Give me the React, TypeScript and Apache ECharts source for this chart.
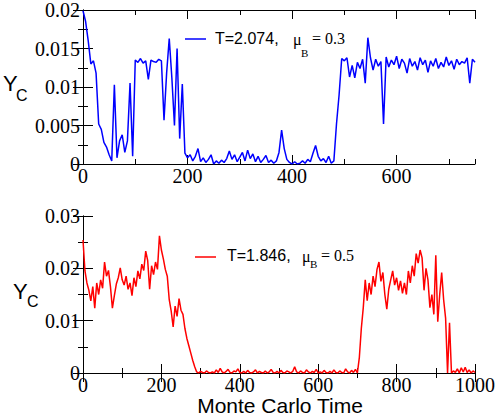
import React, { useEffect, useRef } from "react";
import * as echarts from "echarts";

// Sampling step (Monte Carlo time units) of both series
const TOP_STEP = 5;
const BOTTOM_STEP = 5;

// Top panel: T=2.074, mu_B=0.3, t = 0..750
const topValues: number[] = [
  0.0199, 0.0185, 0.016, 0.013, 0.0134, 0.0118, 0.0052, 0.0045, 0.0028, 0.0022,
  0.0012, 0.0004, 0.0103, 0.0008, 0.003, 0.0038, 0.0015, 0.003, 0.0105, 0.001,
  0.0135, 0.0132, 0.0137, 0.0131, 0.0134, 0.011, 0.0135, 0.0133, 0.0132, 0.0136,
  0.0134, 0.0057, 0.0118, 0.0163, 0.0112, 0.005, 0.015, 0.0033, 0.0104, 0.0014,
  0.0008, 0.0012, 0.0004, 0.001, 0.002, 0.0003, 0.0008, 0.0002, 0.0006, 0.0012,
  0.0, 0.0004, 0.0001, 0.0005, 0.0002, 0.0007, 0.0017, 0.0006, 0.0012, 0.0003,
  0.0009, 0.0015, 0.0004, 0.0018, 0.0007, 0.0013, 0.0003, 0.001, 0.0002, 0.0006,
  0.0011, 0.0002, 0.0005, 0.0001, 0.0004, 0.0015, 0.0044, 0.002, 0.0006, 0.0002,
  0.0, 0.0003, 0.0, 0.0001, 0.0004, 0.0001, 0.0006, 0.0003, 0.0014, 0.0024,
  0.001, 0.0004, 0.0007, 0.0002, 0.001, 0.0001, 0.0004, 0.0052, 0.009, 0.0137,
  0.0134, 0.0138, 0.0113, 0.0128, 0.0112, 0.0132, 0.0124, 0.0136, 0.0105, 0.0164,
  0.0138, 0.0122, 0.0136, 0.0127, 0.0133, 0.0052, 0.0139, 0.0126, 0.0135, 0.0129,
  0.014, 0.0124, 0.0136, 0.0131, 0.0118, 0.0137, 0.0127, 0.0133, 0.0122, 0.0138,
  0.0129, 0.0135, 0.0119, 0.0134, 0.0127, 0.0137, 0.0124, 0.0132, 0.0126, 0.0139,
  0.0128, 0.0134, 0.0123, 0.0136, 0.0129, 0.0133, 0.0131, 0.0138, 0.0105, 0.0136,
  0.0132,
];

// Bottom panel: T=1.846, mu_B=0.5, t = 0..1000
const bottomValues: number[] = [
  0.0254, 0.0195, 0.0172, 0.0158, 0.0138, 0.0165, 0.0124, 0.0172, 0.015, 0.0178,
  0.0162, 0.0212, 0.0185, 0.0196, 0.0165, 0.0124, 0.0148, 0.017, 0.0182, 0.0201,
  0.0178, 0.0168, 0.0185, 0.016, 0.0172, 0.0148, 0.0182, 0.0165, 0.0195, 0.018,
  0.0208, 0.0196, 0.0233, 0.0215, 0.016, 0.0205, 0.0188, 0.0212, 0.0198, 0.0262,
  0.0235, 0.0218, 0.0198, 0.0185, 0.014, 0.0118, 0.0088, 0.0128, 0.0108, 0.0142,
  0.012, 0.0112, 0.0085, 0.0066, 0.0052, 0.0038, 0.0024, 0.0012, 0.0002, 0.0,
  0.0003, 0.0001, 0.0, 0.0004, 0.0001, 0.0, 0.0002, 0.0, 0.0006, 0.0001,
  0.0009, 0.0002, 0.0, 0.0003, 0.0007, 0.0001, 0.0, 0.0004, 0.0002, 0.0008,
  0.0001, 0.0, 0.0003, 0.0, 0.0005, 0.0001, 0.0, 0.0002, 0.0006, 0.0,
  0.0003, 0.0001, 0.0, 0.0004, 0.0, 0.0002, 0.0007, 0.0001, 0.0, 0.0003,
  0.0, 0.0005, 0.0001, 0.0, 0.0004, 0.0002, 0.0, 0.0003, 0.0012, 0.0002,
  0.0, 0.0004, 0.0001, 0.0, 0.0006, 0.0002, 0.0, 0.0003, 0.0001, 0.0007,
  0.0, 0.0002, 0.0, 0.0005, 0.0001, 0.0, 0.0003, 0.0, 0.0006, 0.0001,
  0.0, 0.0004, 0.0001, 0.0, 0.0008, 0.0002, 0.0, 0.0005, 0.0001, 0.0007,
  0.0, 0.003, 0.0085, 0.0125, 0.0178, 0.0138, 0.0172, 0.015, 0.0185, 0.0165,
  0.0198, 0.0212, 0.0175, 0.0192, 0.015, 0.0122, 0.016, 0.0178, 0.0195, 0.0168,
  0.0182, 0.0158, 0.0176, 0.0152, 0.0172, 0.015, 0.0195, 0.0172, 0.0205, 0.0185,
  0.0228, 0.021, 0.0235, 0.022, 0.0158, 0.02, 0.0178, 0.0125, 0.015, 0.0112,
  0.0225, 0.0098, 0.015, 0.0192, 0.014, 0.0105, 0.0, 0.0096, 0.0, 0.0004,
  0.0001, 0.0008, 0.0, 0.001, 0.0002, 0.0011, 0.0001, 0.0006, 0.0, 0.0004,
  0.0001,
];

const topLegend = { main: "T=2.074,", mu: "μ", sub: "B", tail: "= 0.3" };
const bottomLegend = { main: "T=1.846,", mu: "μ", sub: "B", tail: "= 0.5" };
const xAxisTitle = "Monte Carlo Time";
const yAxisTitle = { main: "Y", sub: "C" };

const SERIF = "Liberation Serif, DejaVu Serif, Noto Serif, Times New Roman, Times, serif";
const SANS = "Liberation Sans, Arial, Helvetica, sans-serif";

export default function App() {
  const ref = useRef<HTMLDivElement>(null);

  useEffect(() => {
    if (!ref.current) return;
    const chart = echarts.init(ref.current, undefined, { renderer: "svg" });

    const line = { show: true, lineStyle: { color: "#000", width: 1 } };
    const label = { color: "#000", fontFamily: SERIF, fontSize: 20, lineHeight: 16 };
    const tickStyle = { color: "#000", width: 1 };

    const xMajor = (grid: number, pos: "top" | "bottom", max: number, showLabel: boolean, minor: boolean) => ({
      type: "value",
      gridIndex: grid,
      position: pos,
      min: 0,
      max,
      interval: 200,
      axisLine: line,
      axisTick: { show: true, inside: true, length: 9, lineStyle: tickStyle },
      minorTick: { show: minor, splitNumber: 2, length: 5, lineStyle: tickStyle },
      axisLabel: {
        show: showLabel,
        margin: 4,
        showMaxLabel: max === 1000,
        formatter: (v: number) => String(v),
        ...label,
      },
      splitLine: { show: false },
      minorSplitLine: { show: false },
    });
    const xMinor = (grid: number, pos: "top" | "bottom", max: number) => ({
      type: "value",
      gridIndex: grid,
      position: pos,
      min: 0,
      max,
      interval: 100,
      axisLine: { show: false },
      axisTick: { show: true, inside: true, length: 5, lineStyle: tickStyle },
      axisLabel: { show: false },
      splitLine: { show: false },
    });
    const yAx = (grid: number, pos: "left" | "right", max: number, interval: number, showLabel: boolean) => ({
      type: "value",
      gridIndex: grid,
      position: pos,
      min: 0,
      max,
      interval,
      axisLine: line,
      axisTick: { show: true, inside: true, length: 10, lineStyle: tickStyle },
      minorTick: { show: true, splitNumber: 2, length: 5, lineStyle: tickStyle },
      axisLabel: { show: showLabel, margin: 3, ...label },
      splitLine: { show: false },
      minorSplitLine: { show: false },
    });

    const txt = (x: number, y: number, text: string, size: number, family: string, align = "left", lh = size) => ({
      type: "text",
      x,
      y,
      style: {
        text,
        fontSize: size,
        fontFamily: family,
        lineHeight: lh,
        fill: "#000",
        align,
        verticalAlign: "middle",
      },
    });

    const legendGraphics = (
      lg: typeof topLegend,
      color: string,
      lineX: number,
      lineY: number,
      textX: number,
      textY: number,
      muX: number,
      subX: number,
      subY: number,
      tailX: number
    ) => [
      { type: "line", shape: { x1: lineX, y1: lineY, x2: lineX + 21, y2: lineY }, style: { stroke: color, lineWidth: 1.5 } },
      txt(textX, textY, lg.main, 16, SANS),
      txt(muX, textY + 1, lg.mu, 16, SERIF),
      txt(subX, subY, lg.sub, 11, SERIF),
      txt(tailX, textY, lg.tail, 16, SERIF),
    ];

    chart.setOption({
      animation: false,
      backgroundColor: "#fff",
      grid: [
        { left: 83, top: 8, width: 392, height: 156 },
        { left: 83, top: 216, width: 393, height: 157 },
      ],
      xAxis: [
        xMajor(0, "bottom", 750, true, false),
        xMinor(0, "bottom", 750),
        xMajor(0, "top", 750, false, false),
        xMinor(0, "top", 750),
        xMajor(1, "bottom", 1000, true, true),
        xMajor(1, "top", 1000, false, true),
      ],
      yAxis: [
        yAx(0, "left", 0.02, 0.005, true),
        yAx(0, "right", 0.02, 0.005, false),
        yAx(1, "left", 0.03, 0.01, true),
        yAx(1, "right", 0.03, 0.01, false),
      ],
      series: [
        {
          type: "line",
          xAxisIndex: 0,
          yAxisIndex: 0,
          data: topValues.map((v, i) => [i * TOP_STEP, v]),
          symbol: "none",
          lineStyle: { color: "#0000ff", width: 1.5 },
        },
        {
          type: "line",
          xAxisIndex: 4,
          yAxisIndex: 2,
          data: bottomValues.map((v, i) => [i * BOTTOM_STEP, v]),
          symbol: "none",
          lineStyle: { color: "#ff0000", width: 1.5 },
        },
      ],
      graphic: [
        ...legendGraphics(topLegend, "#0000ff", 185, 39, 215, 38, 293, 301, 53, 312),
        ...legendGraphics(bottomLegend, "#ff0000", 195, 257, 227, 255, 302, 310, 264, 321),
        txt(3, 83, yAxisTitle.main, 22, SANS),
        txt(16, 95, yAxisTitle.sub, 16, SANS),
        txt(13, 291, yAxisTitle.main, 22, SANS),
        txt(27, 301, yAxisTitle.sub, 16, SANS),
        txt(280, 405.5, xAxisTitle, 21, SANS, "center", 16),
      ],
    });

    return () => chart.dispose();
  }, []);

  return <div ref={ref} style={{ position: "fixed", left: 0, top: 0, width: 498, height: 417 }} />;
}
